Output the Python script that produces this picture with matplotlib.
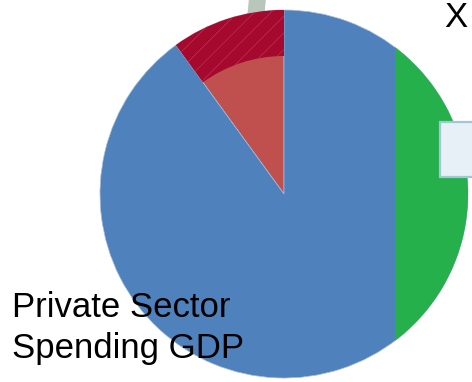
import numpy as np
import matplotlib
matplotlib.use('Agg')
import matplotlib.pyplot as plt
from matplotlib.patches import Circle, Rectangle, Polygon

# shares of the whole circle, in percent
labels = ['Government', 'Private Sector Spending GDP', 'Net Exports']
wedge_shares = [10, 90]        # red wedge, blue remainder
net_export_share = 14          # green segment cut off by a vertical chord
outer_ring_share = 10          # dark hatched band on the government wedge

blue = '#4f81bd'
red = '#c0504d'
dark_red = '#a50a2e'
green = '#25b04b'

W, H = 472, 382
cx, cy, R = 284, 194, 184


def chord_offset(frac):
    # distance from centre to a chord that cuts off `frac` of the disc area
    lo, hi = 0.0, 1.0
    for _ in range(60):
        d = 0.5 * (lo + hi)
        f = (np.arccos(d) - d * np.sqrt(1 - d * d)) / np.pi
        if f > frac:
            lo = d
        else:
            hi = d
    return d


plt.rcParams['hatch.linewidth'] = 0.4
fig = plt.figure(figsize=(W / 100, H / 100), dpi=100)
ax = fig.add_axes([0, 0, 1, 1])
ax.set_xlim(0, W)
ax.set_ylim(H, 0)
ax.set_aspect('equal')
ax.axis('off')

# grey bar peeking out above the circle
ax.add_patch(Polygon([[249, -2], [266, -2], [263, 30], [246, 30]],
                     closed=True, facecolor='#b8c7b9', edgecolor='none', zorder=1))

# main pie (y axis is flipped, so go clockwise from -90 to sweep visually ccw from the top)
wedges, _ = ax.pie(wedge_shares, colors=[red, blue], startangle=-90, counterclock=False,
                   radius=R, center=(cx, cy), frame=True,
                   wedgeprops=dict(linewidth=0.5, edgecolor='#a9bcd6'))
for w in wedges:
    w.set_zorder(2)

# outer hatched band on the red wedge
ring, _ = ax.pie([outer_ring_share, 100 - outer_ring_share], colors=[dark_red, 'none'],
                 startangle=-90, counterclock=False, radius=R, center=(cx, cy), frame=True,
                 wedgeprops=dict(width=46, linewidth=0))
ring[0].set_hatch('//')
ring[0].set_edgecolor('#c63a5c')
ring[0].set_zorder(3)
ring[1].set_visible(False)

# green segment on the right side
chord_x = cx + R * chord_offset(net_export_share / 100)
seg = Circle((cx, cy), R, facecolor=green, edgecolor='none', zorder=4)
ax.add_patch(seg)
clip = Rectangle((chord_x, 0), W, H, transform=ax.transData)
seg.set_clip_path(clip)

ax.set_xlim(0, W)
ax.set_ylim(H, 0)

# pale box on the right edge
ax.add_patch(Rectangle((440, 122), 40, 55, facecolor='#e7f0f6', edgecolor='#a3c6d6',
                       linewidth=1.6, zorder=5))

font = dict(family='Liberation Sans', fontsize=25, color='black', zorder=6)
ax.text(12, 317, 'Private Sector', va='baseline', ha='left', **font)
ax.text(12, 358, 'Spending GDP', va='baseline', ha='left', **font)
ax.text(444, 27, 'X', va='baseline', ha='left', **font)

fig.savefig('out.png', dpi=100)
